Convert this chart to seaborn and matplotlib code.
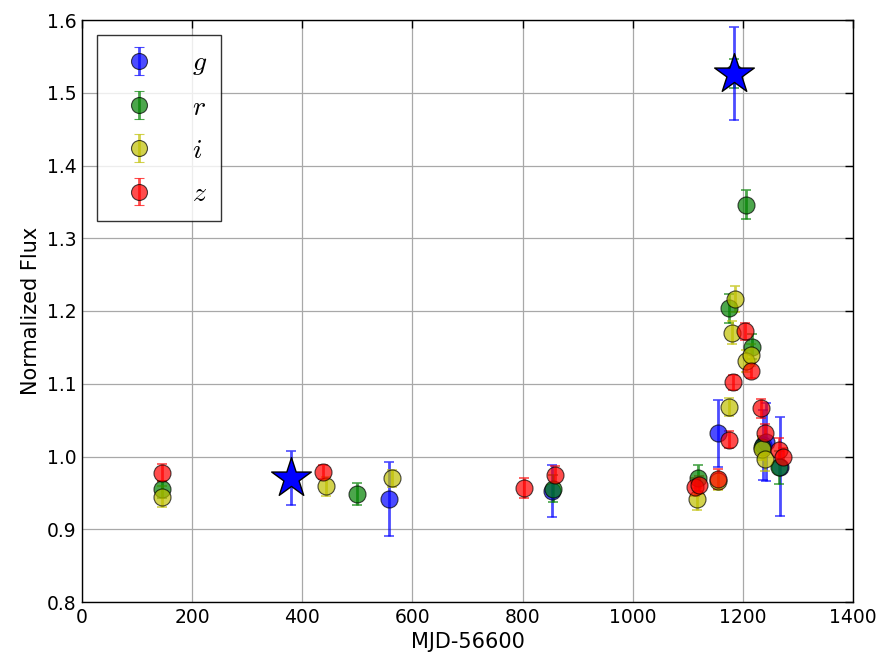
import numpy as np
import pandas as pd
import matplotlib
matplotlib.use("Agg")
import matplotlib.pyplot as plt
import seaborn as sns

# ---- data ----
g_mjd = [558, 853, 1154, 1236, 1242, 1267]
g_flux = [0.942, 0.953, 1.032, 1.016, 1.020, 0.986]
g_err = [0.051, 0.036, 0.046, 0.048, 0.054, 0.068]

star_mjd = [379, 1184]
star_flux = [0.971, 1.526]
star_err = [0.037, 0.064]

r_mjd = [145, 499, 855, 1119, 1175, 1184, 1206, 1217, 1234, 1265]
r_flux = [0.955, 0.948, 0.956, 0.971, 1.204, 1.527, 1.346, 1.151, 1.013, 0.985]
r_err = [0.012, 0.015, 0.018, 0.018, 0.020, 0.020, 0.020, 0.017, 0.015, 0.023]

i_mjd = [145, 443, 563, 1116, 1155, 1175, 1181, 1185, 1206, 1215, 1235, 1241]
i_flux = [0.945, 0.959, 0.970, 0.942, 0.966, 1.068, 1.170, 1.217, 1.131, 1.140, 1.010, 0.996]
i_err = [0.014, 0.013, 0.012, 0.015, 0.012, 0.013, 0.016, 0.018, 0.015, 0.015, 0.015, 0.016]

z_mjd = [145, 437, 802, 859, 1113, 1120, 1154, 1174, 1182, 1204, 1215, 1233, 1240, 1266, 1272]
z_flux = [0.978, 0.979, 0.957, 0.975, 0.958, 0.961, 0.969, 1.023, 1.102, 1.172, 1.118, 1.066, 1.032, 1.009, 1.000]
z_err = [0.012, 0.010, 0.014, 0.012, 0.012, 0.012, 0.014, 0.012, 0.010, 0.012, 0.010, 0.013, 0.012, 0.016, 0.012]

bands = ["g", "r", "i", "z"]
colors = {"g": "#0000ff", "r": "#008000", "i": "#bfbf00", "z": "#ff0000"}

sns.set_style("white")
plt.rcParams["mathtext.fontset"] = "cm"
plt.rcParams["font.family"] = ["DejaVu Sans"]
plt.rcParams["text.color"] = "black"
plt.rcParams["axes.labelcolor"] = "black"
plt.rcParams["xtick.color"] = "black"
plt.rcParams["ytick.color"] = "black"

frames = []
for b, xs, ys, es in [("g", g_mjd, g_flux, g_err), ("r", r_mjd, r_flux, r_err),
                      ("i", i_mjd, i_flux, i_err), ("z", z_mjd, z_flux, z_err)]:
    frames.append(pd.DataFrame({"mjd": xs, "flux": ys, "err": es, "band": b}))
df = pd.concat(frames, ignore_index=True)

fig = plt.figure(figsize=(8.83, 6.64), dpi=100)
ax = fig.add_axes([82 / 883, 1 - 602 / 664, 771 / 883, 582 / 664])

for b in bands:
    sub = df[df.band == b]
    ax.errorbar(sub.mjd, sub.flux, yerr=sub.err, fmt="none", ecolor=colors[b],
                elinewidth=2, capsize=3.5, capthick=1.2, alpha=0.7, zorder=2)
    sns.scatterplot(x=sub.mjd, y=sub.flux, ax=ax, color=colors[b], s=150, alpha=0.7,
                    edgecolor="black", linewidth=0.8, zorder=3, legend=False)

# star detections
ax.errorbar(star_mjd, star_flux, yerr=star_err, fmt="none", ecolor=colors["g"],
            elinewidth=2, capsize=3.5, capthick=1.2, alpha=0.7, zorder=4)
sns.scatterplot(x=star_mjd, y=star_flux, ax=ax, marker="*", s=900, color="#0000ff",
                edgecolor="black", linewidth=1.0, zorder=5, legend=False)

# legend handles (errorbar + marker)
leg_handles = []
for b in bands:
    eb = ax.errorbar([np.nan], [np.nan], yerr=[0.1], fmt="o", color=colors[b],
                     markersize=11.5, markeredgecolor="black", markeredgewidth=0.8,
                     elinewidth=2, capsize=3.5, capthick=1.2, alpha=0.7)
    leg_handles.append(eb)
leg = ax.legend(leg_handles, [r"$g$", r"$r$", r"$i$", r"$z$"], loc="upper left",
                bbox_to_anchor=(0.02, 0.975), fontsize=20, frameon=True, fancybox=False,
                numpoints=1, handlelength=2.0, handletextpad=0.9, borderpad=0.5,
                labelspacing=0.55, borderaxespad=0.0)
leg.get_frame().set_edgecolor("black")
leg.get_frame().set_linewidth(1.0)

ax.set_xlim(0, 1400)
ax.set_ylim(0.8, 1.6)
ax.set_xticks(np.arange(0, 1401, 200))
ax.set_yticks(np.arange(0.8, 1.61, 0.1))
ax.set_yticklabels([f"{v:.1f}" for v in np.arange(0.8, 1.61, 0.1)])
ax.grid(True, color="#a8a8a8", linewidth=0.9, linestyle="-")
ax.set_axisbelow(True)
ax.tick_params(direction="in", length=6, width=1, top=True, right=True,
               labelsize=13.5, pad=4, color="black", labelcolor="black")
for s in ax.spines.values():
    s.set_color("black")
    s.set_linewidth(1.0)
ax.set_xlabel("MJD-56600", fontsize=15, color="black")
ax.set_ylabel("Normalized Flux", fontsize=15, color="black")

fig.savefig("out.png", dpi=100)
